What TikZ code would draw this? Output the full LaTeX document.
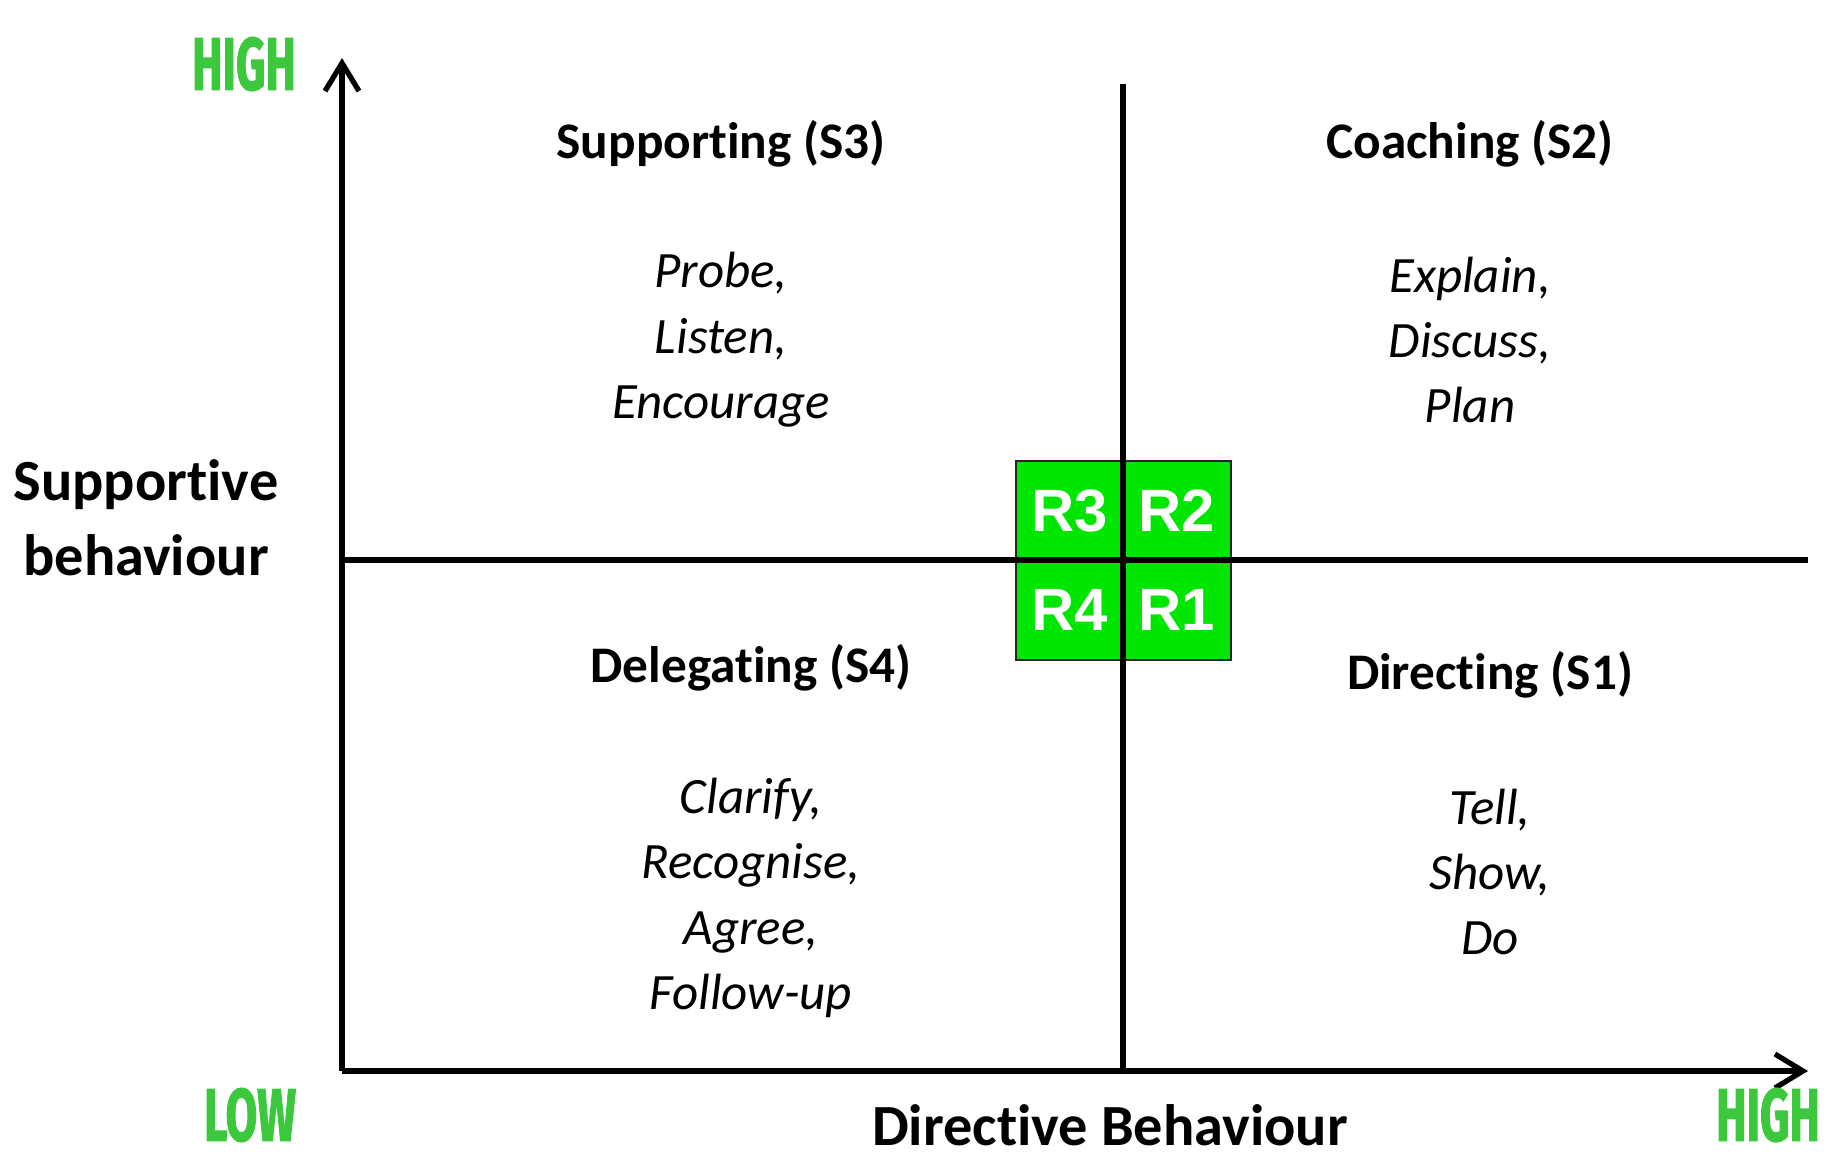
\documentclass[tikz,border=0pt]{standalone}
\usepackage{fontspec}
\setmainfont{Carlito}[Ligatures=CommonOff]
\newfontfamily\rfont{Liberation Sans}
\newfontfamily\hlfont{Fira Sans}[BoldFeatures={FakeBold=2}]
\usetikzlibrary{arrows.meta}
\definecolor{boxgreen}{RGB}{0,230,0}
\definecolor{hlgreen}{RGB}{60,200,60}
\tikzset{
  axis/.style={line width=1.5pt,-{Straight Barb[length=2.8mm,width=3.4mm,line width=1.5pt]}},
  quad/.style={line width=1.5pt},
  rbox/.style={draw=black!85,line width=0.6pt,fill=boxgreen,minimum width=10.75mm,minimum height=9.95mm,inner sep=0pt,font=\rfont\bfseries\fontsize{17}{20}\selectfont,text=white},
  head/.style={font=\bfseries\fontsize{14.6}{18}\selectfont},
  items/.style={font=\itshape\fontsize{14.5}{18.6}\selectfont,align=center},
  axlabel/.style={font=\bfseries\fontsize{16.6}{21.3}\selectfont,align=center,inner sep=0pt},
  hl/.style={font=\hlfont\bfseries\fontsize{21}{21}\selectfont,text=hlgreen,inner sep=0pt}
}
\newcommand{\hlword}[1]{\scalebox{0.62}[1]{#1}}
\begin{document}
\begin{tikzpicture}[x=0.1mm,y=-0.1mm]
        \useasboundingbox (0,0) rectangle (1832,1153);
        %% Points
        \coordinate (O) at (342,1071);
        \coordinate (ytop) at (342,58);
        \coordinate (xend) at (1808,1071);
        \coordinate (mtop) at (1123,84);
        \coordinate (mbot) at (1123,1071);
        \coordinate (hleft) at (342,560);
        \coordinate (hright) at (1808,560);
        %% Green boxes
        \node[rbox] (R3) at (1069.5,510.5) {R3};
        \node[rbox] (R2) at (1177,510.5) {R2};
        \node[rbox] (R4) at (1069.5,610) {R4};
        \node[rbox] (R1) at (1177,610) {R1};
        %% Axes and quadrant lines
        \draw[quad] (mtop) -- (mbot);
        \draw[quad] (hleft) -- (hright);
        \draw[axis] (O) -- (ytop);
        \draw[axis] (O) -- (xend);
        %% Quadrants
        \node[head] (s3) at (721,144) {Supporting (S3)};
        \node[items] (s3t) at (721,340) {Probe,\\Listen,\\Encourage};
        \node[head] (s2) at (1470,144) {Coaching (S2)};
        \node[items] (s2t) at (1470,340) {Explain,\\Discuss,\\Plan};
        \node[head] (s4) at (751,668) {Delegating (S4)};
        \node[items] (s4t) at (751,898) {Clarify,\\Recognise,\\Agree,\\Follow-up};
        \node[head] (s1) at (1490,675) {Directing (S1)};
        \node[items] (s1t) at (1490,872) {Tell,\\Show,\\Do};
        %% Labels
        \node[axlabel] (ylab) at (146,518) {Supportive\\behaviour};
        \node[axlabel] (xlab) at (1110,1125) {Directive Behaviour};
        \node[hl] (yhigh) at (244,64) {\hlword{HIGH}};
        \node[hl] (xlow) at (250,1115) {\hlword{LOW}};
        \node[hl] (xhigh) at (1768,1115) {\hlword{HIGH}};
    \end{tikzpicture}
\end{document}
